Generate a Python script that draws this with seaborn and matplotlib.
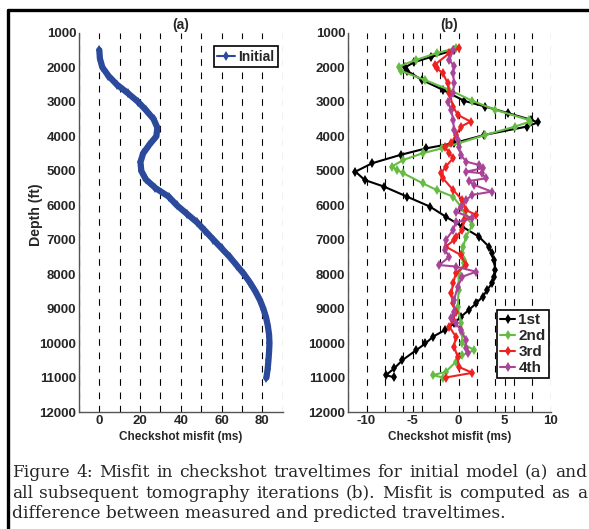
import numpy as np
import pandas as pd
import seaborn as sns
import matplotlib.pyplot as plt
from matplotlib.ticker import MultipleLocator
from matplotlib.lines import Line2D

# (a) initial model misfit
depth_init = [1500, 1750, 2000, 2250, 2500, 2750, 3000, 3250, 3500, 3750, 4000,
              4250, 4500, 4750, 5000, 5250, 5500, 5750, 6000, 6250, 6500, 6750,
              7000, 7250, 7500, 7750, 8000, 8250, 8500, 8750, 9000, 9250, 9500,
              9750, 10000, 10250, 10500, 10750, 11000]
misfit_init = [0, 0.3, 1.5, 4.5, 8.6, 14, 19, 23, 26.6, 28.5, 28,
               24.5, 21.5, 20.2, 20.6, 22.8, 27.5, 34, 38, 43, 48, 52,
               56, 60, 64, 67.5, 71, 74, 76.6, 78.8, 80.5, 81.8, 82.7,
               83.3, 83.5, 83.3, 83, 82.6, 82]

# (b) tomography iterations
depth_1st = [1500, 1700, 1850, 2000, 2100, 2365, 2655, 2974, 3140, 3333, 3526,
             3600, 3720, 3962, 4200, 4350, 4540, 4784, 5026, 5268, 5461, 5752,
             6042, 6332, 6623, 6913, 7204, 7396, 7590, 7880, 8074, 8267, 8461,
             8655, 8848, 9042, 9235, 9429, 9623, 9816, 10010, 10203, 10493,
             10735, 10929, 10990]
misfit_1st = [-0.5, -3.0, -4.8, -5.8, -5.6, -4.0, -1.7, 0.6, 2.9, 5.4, 7.9,
              8.6, 7.4, 2.8, -0.5, -3.5, -6.3, -9.4, -11.2, -10.2, -8.1, -5.6,
              -3.1, -1.4, 0.4, 2.2, 3.3, 3.6, 3.8, 4.0, 3.8, 3.6, 3.1,
              2.6, 1.9, 1.1, 0.25, -0.5, -1.5, -2.8, -3.6, -4.6, -6.1,
              -7.0, -7.9, -7.0]

depth_2nd = [1445, 1590, 1784, 1980, 2100, 2365, 2655, 2974, 3236, 3526, 3580,
             3720, 3962, 4204, 4350, 4493, 4687, 4880, 4977, 5074, 5364, 5558,
             5752, 6042, 6332, 6574, 6913, 7200, 7396, 7590, 7687, 7977, 8461,
             8945, 9429, 9719, 10009, 10203, 10348, 10542, 10832, 10929, 10997]
misfit_2nd = [-0.3, -2.4, -4.6, -6.5, -6.3, -3.7, -1.0, 1.5, 4.0, 7.6, 7.7,
              6.1, 2.9, 0.0, -1.8, -3.9, -6.0, -7.25, -6.7, -6.0, -3.9, -2.4,
              -0.6, 0.25, 0.8, 1.5, 0.8, 0.5, 0.4, 0.6, 0.6, 0.0, 0.0,
              -0.1, 0.25, 0.4, 0.4, 1.7, 0.4, -0.3, -1.4, -2.8, -1.7]

depth_3rd = [1445, 1590, 1929, 2030, 2171, 2461, 2752, 3140, 3380, 3575, 3720,
             3962, 4204, 4300, 4493, 4638, 4880, 5074, 5219, 5558, 5848, 6139,
             6284, 6430, 6720, 6913, 7009, 7203, 7444, 7735, 7977, 8267, 8558,
             8848, 9090, 9332, 9526, 9816, 10100, 10396, 10687, 10861, 10997]
misfit_3rd = [0.0, -1.0, -2.6, -2.4, -1.7, -1.2, -1.0, -0.6, -0.1, 1.3, 0.25,
              -0.3, -0.8, -1.5, -1.0, -0.6, -1.4, -1.9, -1.7, -0.6, 0.4, 0.8,
              1.9, 0.6, 0.4, -0.3, -0.5, -1.4, 0.25, 0.8, -0.3, -0.6, -0.8,
              -0.6, -0.3, -0.6, -1.0, -0.3, -0.5, -0.1, 0.0, 1.5, -1.4]

depth_4th = [1493, 1784, 1977, 2171, 2461, 2752, 2994, 3236, 3526, 3816, 4107,
             4300, 4542, 4735, 4832, 4930, 5026, 5074, 5219, 5300, 5413, 5606,
             5700, 5848, 6042, 6187, 6380, 6500, 6720, 7010, 7300, 7493, 7735,
             7780, 7929, 8074, 8364, 8751, 9090, 9284, 9429, 9623, 9912, 10155,
             10280]
misfit_4th = [-0.6, -1.0, -0.5, -0.6, -0.5, -0.6, -1.2, -0.8, -0.6, -0.5, -0.1,
              0.0, 0.25, 0.8, 2.2, 2.6, 0.8, 2.5, 3.0, 1.1, 1.7, 3.6,
              1.5, 0.8, 0.25, -0.3, 1.5, -0.3, -0.6, -1.4, -1.5, -1.0, -2.1,
              -0.3, 1.9, 0.4, -0.1, -0.5, -0.5, -0.8, -0.3, 0.25, 0.8, 0.8,
              1.0]

iterations = ["1st", "2nd", "3rd", "4th"]
iter_colors = ["#000000", "#66bb44", "#ee2222", "#aa4499"]

caption = ["Figure 4:  Misfit in checkshot traveltimes for initial model (a) and",
           "all subsequent tomography iterations (b). Misfit is computed as a",
           "difference between measured and predicted traveltimes."]

sns.set_style("white")
plt.rcParams["font.family"] = ["Liberation Sans", "DejaVu Sans"]
plt.rcParams["font.weight"] = "bold"
plt.rcParams["axes.unicode_minus"] = False

df_a = pd.DataFrame({"depth": depth_init, "misfit": misfit_init, "run": "Initial"})
df_b = pd.concat([
    pd.DataFrame({"depth": d, "misfit": m, "run": name})
    for name, d, m in zip(iterations,
                          [depth_1st, depth_2nd, depth_3rd, depth_4th],
                          [misfit_1st, misfit_2nd, misfit_3rd, misfit_4th])
], ignore_index=True)

fig = plt.figure(figsize=(5.89, 5.29), dpi=100)
ax_a = fig.add_axes([0.134, 0.221, 0.346, 0.717])
ax_b = fig.add_axes([0.591, 0.221, 0.344, 0.717])

sns.lineplot(data=df_a, x="misfit", y="depth", hue="run", palette=["#2b4a9c"],
             sort=False, estimator=None, marker="d", markersize=5,
             markeredgewidth=0, linewidth=4.5, ax=ax_a)
sns.lineplot(data=df_b, x="misfit", y="depth", hue="run",
             palette=iter_colors, sort=False, estimator=None, marker="d",
             markersize=5, markeredgewidth=0, linewidth=1.5, ax=ax_b)


def style_axis(ax, xlim, major, minor, title):
    ax.set_ylim(12000, 1000)
    ax.set_xlim(*xlim)
    ax.yaxis.set_major_locator(MultipleLocator(1000))
    ax.xaxis.set_major_locator(MultipleLocator(major))
    ax.xaxis.set_minor_locator(MultipleLocator(minor))
    ax.grid(False)
    ax.grid(True, which="both", axis="x", color="k", linestyle=(0, (6, 6)),
            linewidth=0.8)
    ax.set_axisbelow(True)
    for side in ["top", "right"]:
        ax.spines[side].set_visible(False)
    for side in ["left", "bottom"]:
        ax.spines[side].set_color("#555555")
        ax.spines[side].set_linewidth(1.0)
    ax.tick_params(which="major", direction="in", length=4, color="#555555",
                   labelsize=9.5, pad=2)
    ax.tick_params(which="minor", length=0)
    for lab in ax.get_xticklabels() + ax.get_yticklabels():
        lab.set_fontweight("bold")
    ax.set_xlabel("Checkshot misfit (ms)", fontsize=8.5, fontweight="bold",
                  labelpad=3)
    ax.set_title(title, fontsize=10, fontweight="bold", pad=3)


style_axis(ax_a, (-10, 90), 20, 10, "(a)")
style_axis(ax_b, (-12, 10), 5, 2, "(b)")
ax_a.set_ylabel("Depth (ft)", fontsize=10.2, fontweight="bold")
ax_a.yaxis.set_label_coords(-0.175, 0.52)
ax_b.set_ylabel("")

leg_a = ax_a.legend(loc="upper right", bbox_to_anchor=(0.975, 0.965),
                    fancybox=False, edgecolor="k", framealpha=1,
                    handlelength=1.3, borderpad=0.25, handletextpad=0.2,
                    borderaxespad=0.0, prop={"weight": "bold", "size": 10})
leg_a.get_frame().set_linewidth(1.2)
for ln in leg_a.get_lines():
    ln.set_linewidth(1.5)

leg_b = ax_b.legend(loc="lower right", bbox_to_anchor=(0.99, 0.09),
                    fancybox=False, edgecolor="k", framealpha=1,
                    handlelength=1.0, borderpad=0.2, handletextpad=0.2,
                    labelspacing=0.12, borderaxespad=0.0,
                    prop={"weight": "bold", "size": 11})
leg_b.get_frame().set_linewidth(1.2)
for ln in leg_b.get_lines():
    ln.set_linewidth(1.5)

# page frame
fig.add_artist(Line2D([8 / 589, 1.0], [1 - 10 / 529] * 2, color="k", lw=2.4))
fig.add_artist(Line2D([8 / 589] * 2, [0, 1 - 10 / 529], color="k", lw=2.4))

# caption: justified lines, font size fitted to the last line's width
renderer = fig.canvas.get_renderer()
cap_font = "DejaVu Serif"


def text_width(s, size):
    t = fig.text(0, 0, s, fontsize=size, family=cap_font, fontweight="normal")
    w = t.get_window_extent(renderer).width
    t.remove()
    return w


x0, x1, x_last = 12.0, 587.0, 505.0
cap_size = 10 * (x_last - x0) / text_width(caption[-1], 10)
baselines = [477, 497.5, 518]
for i, line in enumerate(caption):
    y = 1 - baselines[i] / 529
    if i == len(caption) - 1:
        fig.text(x0 / 589, y, line, fontsize=cap_size, family=cap_font,
                 fontweight="normal", ha="left", va="baseline")
        continue
    words = line.split()
    widths = [text_width(w, cap_size) for w in words]
    gap = (x1 - x0 - sum(widths)) / (len(words) - 1)
    x = x0
    for w, wd in zip(words, widths):
        fig.text(x / 589, y, w, fontsize=cap_size, family=cap_font,
                 fontweight="normal", ha="left", va="baseline")
        x += wd + gap

fig.savefig("out.png", dpi=100)
